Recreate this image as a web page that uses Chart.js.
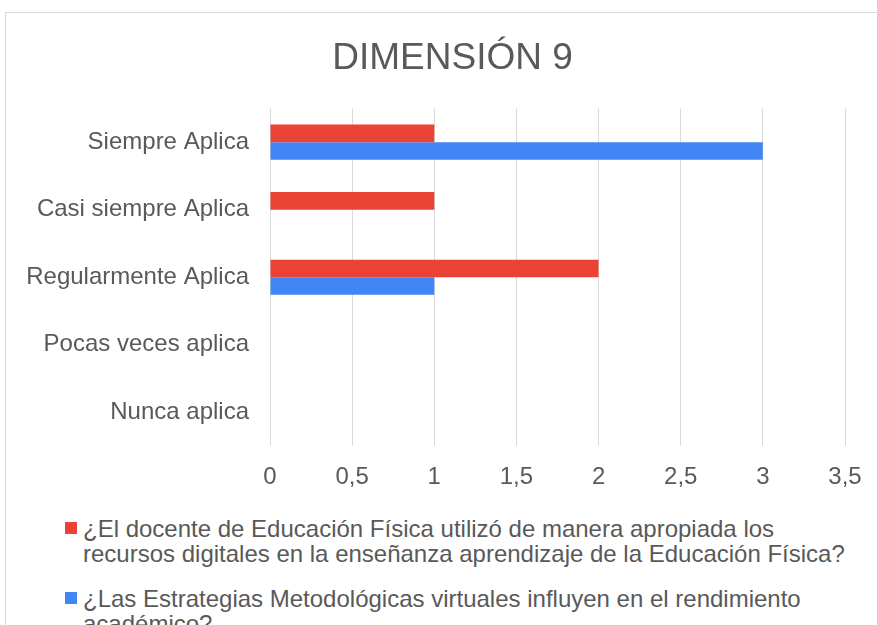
<!DOCTYPE html>
<html>
<head>
<meta charset="utf-8">
<script src="https://cdn.jsdelivr.net/npm/chart.js@4.4.0/dist/chart.umd.min.js"></script>
<style>
  html, body { margin: 0; padding: 0; background: #fff; overflow: hidden; width: 877px; height: 625px; }
  #caja { position: absolute; left: 5px; top: 12px; width: 894px; height: 700px; border: 1px solid #d9d9d9; }
  #lienzo { position: absolute; left: 0; top: 0; }
  #leyenda { position: absolute; left: 65px; top: 516px; width: 790px; font-family: "Liberation Sans", Arial, sans-serif; font-size: 24px; color: #595959; }
  .item { position: relative; padding-left: 18px; line-height: 25px; margin-bottom: 20px; }
  .cuadro { position: absolute; left: 0; top: 6px; width: 12px; height: 12px; }
</style>
</head>
<body>
<div id="caja">
  <canvas id="lienzo" width="894" height="482"></canvas>
</div>
<div id="leyenda"></div>
<script>
// Datos
const categorias = ['Siempre Aplica', 'Casi siempre Aplica', 'Regularmente Aplica', 'Pocas veces aplica', 'Nunca aplica'];
const serieDocente = [1, 1, 2, 0, 0];
const serieEstrategias = [3, 0, 1, 0, 0];
const nombres = [
  '¿El docente de Educación Física utilizó de manera apropiada los recursos digitales en la enseñanza aprendizaje de la Educación Física?',
  '¿Las Estrategias Metodológicas virtuales influyen en el rendimiento académico?'
];
const colores = ['#EA4335', '#4285F4'];

const fuente = '"Liberation Sans", Arial, sans-serif';
const gris = '#595959';

// el título va centrado en todo el recuadro, no solo en la parte izquierda
const moverTitulo = {
  id: 'moverTitulo',
  afterLayout(chart) {
    const t = chart.titleBlock;
    if (t) { t.left += 27; t.right += 27; }
  }
};

const ctx = document.getElementById('lienzo');

const grafico = new Chart(ctx, {
  type: 'bar',
  data: {
    labels: categorias,
    datasets: [
      { label: nombres[0], data: serieDocente, backgroundColor: colores[0] },
      { label: nombres[1], data: serieEstrategias, backgroundColor: colores[1] }
    ]
  },
  options: {
    indexAxis: 'y',
    responsive: false,
    animation: false,
    layout: { padding: { left: 0, right: 55, top: 0, bottom: 0 } },
    datasets: { bar: { categoryPercentage: 0.52, barPercentage: 1 } },
    plugins: {
      legend: { display: false },
      tooltip: { enabled: false },
      title: {
        display: true,
        text: 'DIMENSIÓN 9',
        color: gris,
        font: { family: fuente, size: 37, weight: 'normal' },
        padding: { top: 24, bottom: 27 }
      }
    },
    scales: {
      x: {
        min: 0,
        max: 3.5,
        ticks: {
          stepSize: 0.5,
          color: gris,
          padding: 17,
          font: { family: fuente, size: 24 },
          callback: v => String(v).replace('.', ',')
        },
        grid: { color: '#d9d9d9', drawTicks: false },
        border: { display: false },
        afterFit: s => { s.height = 49; }
      },
      y: {
        ticks: {
          color: gris,
          padding: 21,
          font: { family: fuente, size: 24 }
        },
        grid: { display: false, drawTicks: false },
        border: { display: false },
        afterFit: s => { s.width = 264; }
      }
    }
  },
  plugins: [moverTitulo]
});

// Leyenda en HTML (el texto se parte en varias líneas)
const leyenda = document.getElementById('leyenda');
nombres.forEach((n, i) => {
  const d = document.createElement('div');
  d.className = 'item';
  d.innerHTML = '<span class="cuadro" style="background:' + colores[i] + '"></span>' + n;
  leyenda.appendChild(d);
});
</script>
</body>
</html>
